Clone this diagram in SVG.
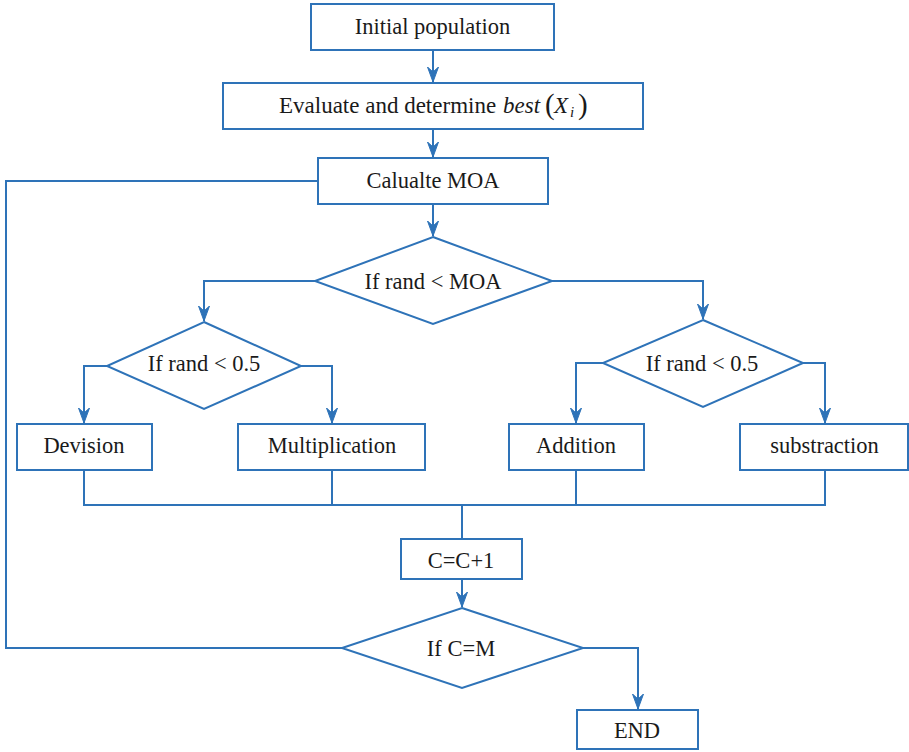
<svg xmlns="http://www.w3.org/2000/svg" width="909" height="752" viewBox="0 0 909 752">
<defs>
<style>
.box{fill:#fff;stroke:#2E73B8;stroke-width:2}
.con{fill:none;stroke:#2E73B8;stroke-width:2}
text{font-family:'Liberation Serif',serif;font-size:22.5px;fill:#1a1a1a;text-anchor:middle}
text.s{text-anchor:start;font-size:23px}
.m{font-style:italic}
</style>
<marker id="arr" markerUnits="userSpaceOnUse" markerWidth="16" markerHeight="14" viewBox="-15 -7 16 14" refX="0" refY="0" orient="auto">
<path d="M0,0 L-15,-5.5 L-10,0 L-15,5.5 Z" fill="#2E73B8" stroke="#2E73B8" stroke-width="1"/>
</marker>
</defs>
<rect width="909" height="752" fill="#fff"/>
<g id="connectors">
<path class="con" d="M433,50 V82" marker-end="url(#arr)"/>
<path class="con" d="M433,129 V157" marker-end="url(#arr)"/>
<path class="con" d="M433,204 V236" marker-end="url(#arr)"/>
<path class="con" d="M315,281 H204 V321" marker-end="url(#arr)"/>
<path class="con" d="M552,281 H703 V319" marker-end="url(#arr)"/>
<path class="con" d="M107,366 H84 V423" marker-end="url(#arr)"/>
<path class="con" d="M301,366 H332 V423" marker-end="url(#arr)"/>
<path class="con" d="M603,363 H576 V423" marker-end="url(#arr)"/>
<path class="con" d="M803,363 H825 V423" marker-end="url(#arr)"/>
<path class="con" d="M84,470 V505 H825 V470 M332,470 V505 M576,470 V505"/>
<path class="con" d="M462,505 V539"/>
<path class="con" d="M462,579 V607" marker-end="url(#arr)"/>
<path class="con" d="M583,648 H638 V709" marker-end="url(#arr)"/>
<path class="con" d="M342,648 H6 V181 H318"/>
</g>
<g id="init">
<rect class="box" x="311" y="4" width="243" height="46"/>
<text x="432.5" y="34">Initial population</text>
</g>
<g id="evaluate">
<rect class="box" x="223" y="83" width="420" height="46"/>
<text class="s" x="279" y="113">Evaluate and determine <tspan class="m" x="503">best</tspan><tspan x="545" font-size="29" dy="1">(</tspan><tspan class="m" x="554" dy="-1">X</tspan><tspan class="m" x="570" font-size="15" dy="4">i</tspan><tspan x="578" font-size="29" dy="-3">)</tspan></text>
</g>
<g id="moa">
<rect class="box" x="318" y="158" width="230" height="46"/>
<text x="433" y="188">Calualte MOA</text>
</g>
<g id="d-moa">
<polygon class="box" points="433,237 552,281 433,324 315,281"/>
<text x="433" y="289">If rand &lt; MOA</text>
</g>
<g id="d-left">
<polygon class="box" points="204,322 301,366 204,409 107,366"/>
<text x="204" y="371">If rand &lt; 0.5</text>
</g>
<g id="d-right">
<polygon class="box" points="703,320 803,363 703,407 603,363"/>
<text x="702" y="371">If rand &lt; 0.5</text>
</g>
<g id="devision">
<rect class="box" x="17" y="424" width="135" height="46"/>
<text x="84" y="453">Devision</text>
</g>
<g id="multiplication">
<rect class="box" x="238" y="424" width="187" height="46"/>
<text x="332" y="453">Multiplication</text>
</g>
<g id="addition">
<rect class="box" x="509" y="424" width="135" height="46"/>
<text x="576" y="453">Addition</text>
</g>
<g id="substraction">
<rect class="box" x="740" y="424" width="168" height="46"/>
<text x="824.5" y="453">substraction</text>
</g>
<g id="counter">
<rect class="box" x="401" y="539" width="121" height="40"/>
<text x="461" y="568">C=C+1</text>
</g>
<g id="d-end">
<polygon class="box" points="462,608 583,648 462,688 342,648"/>
<text x="461" y="656">If C=M</text>
</g>
<g id="end">
<rect class="box" x="577" y="710" width="121" height="39"/>
<text x="637" y="738">END</text>
</g>
</svg>
